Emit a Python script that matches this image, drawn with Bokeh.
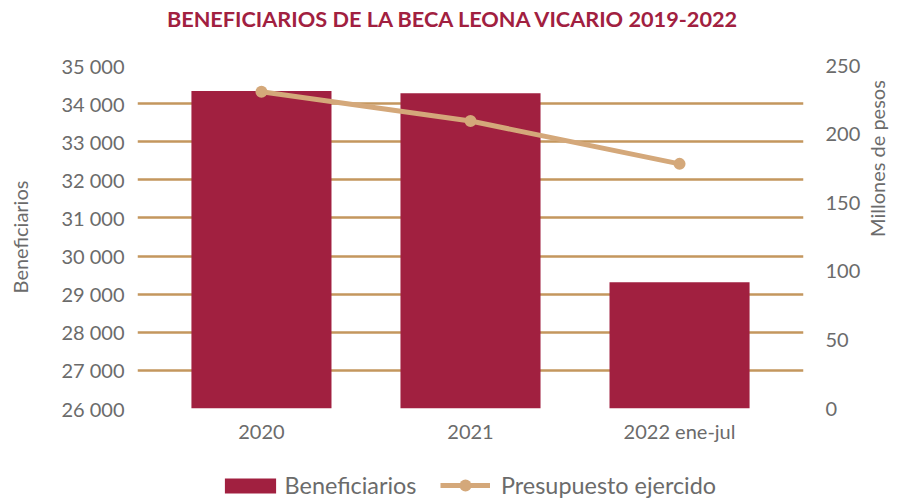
import math
from bokeh.plotting import figure
from bokeh.layouts import column
from bokeh.models import (Range1d, LinearAxis, FactorRange, SingleIntervalTicker,
                          CustomJSTickFormatter, Legend, LegendItem, Label, ColumnDataSource)
from bokeh.embed import file_html
from bokeh.resources import INLINE

title_text = "BENEFICIARIOS DE LA BECA LEONA VICARIO 2019-2022"
categories = ["2020", "2021", "2022 ene-jul"]
beneficiarios = [34330, 34270, 29310]
presupuesto = [230.9, 209.5, 178.3]
legend_labels = ["Beneficiarios", "Presupuesto ejercido"]

BAR = "#A12040"
LINE = "#D4A87A"
GRID = "#C4975E"
TXT = "#6B6B6B"
FONT = "Lato"

src = ColumnDataSource(dict(cat=categories, ben=beneficiarios, pre=presupuesto))


def strip(h):
    f = figure(width=904, height=h, output_backend="svg", toolbar_location=None,
               x_range=FactorRange(factors=categories), y_range=Range1d(0, 1),
               x_axis_location=None, y_axis_location=None,
               min_border_left=0, min_border_right=0, min_border_top=0,
               min_border_bottom=0)
    f.outline_line_color = None
    f.xgrid.grid_line_color = None
    f.ygrid.grid_line_color = None
    return f


# title strip
pt = strip(40)
pt.add_layout(Label(text=title_text, x=316, y=22, x_units="screen", y_units="screen",
                    text_align="center", text_baseline="middle",
                    text_font=FONT, text_font_size="21.7px", text_font_style="bold",
                    text_color="#A12040"))

# main chart
p = figure(width=904, height=420, output_backend="svg", toolbar_location=None,
           x_range=FactorRange(factors=categories, range_padding=0.093,
                               range_padding_units="absolute"),
           y_range=Range1d(26000, 35000),
           min_border_left=137, min_border_right=98, min_border_top=25,
           min_border_bottom=52)
p.outline_line_color = None
p.background_fill_color = "white"

p.extra_y_ranges = {"right": Range1d(0, 250)}

bars = p.vbar(x="cat", top="ben", bottom=26000, width=0.67, source=src,
              fill_color=BAR, line_color=None)
ln = p.line(x="cat", y="pre", source=src, y_range_name="right",
            line_color=LINE, line_width=5)
sc = p.scatter(x="cat", y="pre", source=src, y_range_name="right",
               size=12, fill_color=LINE, line_color=None)

fmt = CustomJSTickFormatter(code="return Math.round(tick).toString().replace(/\\B(?=(\\d{3})+(?!\\d))/g, ' ');")

yl = p.yaxis[0]
yl.ticker = SingleIntervalTicker(interval=1000)
yl.formatter = fmt
yl.axis_label = "Beneficiarios"

yr = LinearAxis(y_range_name="right", ticker=SingleIntervalTicker(interval=50),
                axis_label="Millones de pesos")
p.add_layout(yr, "right")

for ax in [yl, yr, p.xaxis[0]]:
    ax.axis_line_color = None
    ax.major_tick_line_color = None
    ax.minor_tick_line_color = None
    ax.major_label_text_font = FONT
    ax.major_label_text_font_size = "20px"
    ax.major_label_text_color = TXT
    ax.axis_label_text_font = FONT
    ax.axis_label_text_font_size = "20px"
    ax.axis_label_text_font_style = "normal"
    ax.axis_label_text_color = TXT
yl.major_label_standoff = 7
yr.major_label_standoff = 16
yl.axis_label_standoff = 26
yr.axis_label_standoff = 14
yr.axis_label_orientation = math.pi / 2
p.xaxis[0].major_label_standoff = 4

p.xgrid.grid_line_color = None
p.ygrid.grid_line_color = GRID
p.ygrid.grid_line_width = 2.5

# legend strip
pl = strip(42)
lb = pl.vbar(x="cat", top="ben", bottom=26000, width=0.67, source=src,
             fill_color=BAR, line_color=None, visible=False)
ll = pl.line(x="cat", y="pre", source=src, line_color=LINE, line_width=5, visible=False)
ls = pl.scatter(x="cat", y="pre", source=src, size=12, fill_color=LINE,
                line_color=None, visible=False)

common = dict(orientation="horizontal", label_text_font=FONT, label_text_font_size="23.4px",
              label_text_color=TXT, border_line_color=None, background_fill_alpha=0,
              margin=0, padding=0, inactive_fill_alpha=0)
leg1 = Legend(items=[LegendItem(label=legend_labels[0], renderers=[lb])],
              location=(80.6, 3), glyph_width=64, glyph_height=19, label_standoff=3,
              **common)
leg2 = Legend(items=[LegendItem(label=legend_labels[1], renderers=[ll, ls])],
              location=(303, 2), glyph_width=50, glyph_height=30, label_standoff=11,
              **common)
pl.add_layout(leg1, "center")
pl.add_layout(leg2, "center")

open("out.html", "w").write(file_html(column(pt, p, pl, spacing=0), INLINE))
